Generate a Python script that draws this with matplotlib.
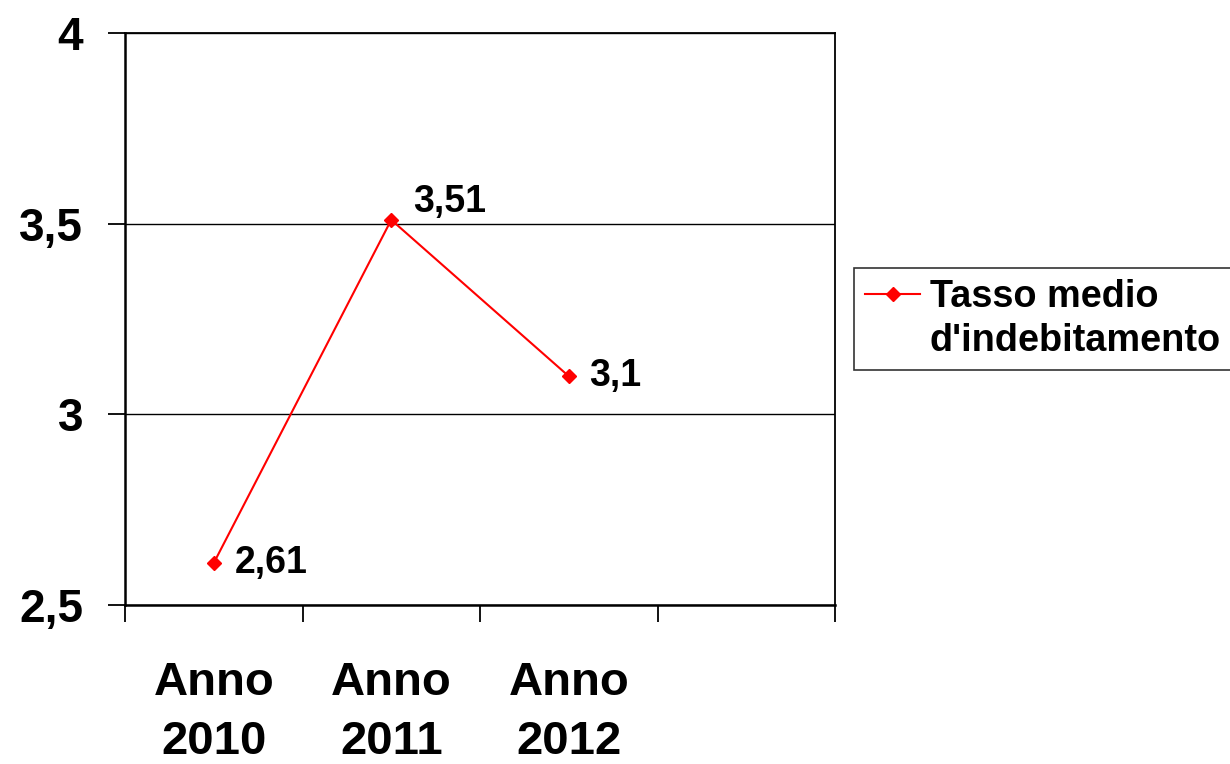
import matplotlib.pyplot as plt
from matplotlib.lines import Line2D

# data
categories = ["Anno\n2010", "Anno\n2011", "Anno\n2012", ""]
values = [2.61, 3.51, 3.1]
value_labels = ["2,61", "3,51", "3,1"]
y_ticks = [2.5, 3, 3.5, 4]
y_tick_labels = ["2,5", "3", "3,5", "4"]
series_name = ["Tasso medio", "d'indebitamento"]

plt.rcParams['font.family'] = ['Liberation Sans', 'DejaVu Sans']
plt.rcParams['font.weight'] = 'bold'

fig = plt.figure(figsize=(12.3, 7.64), dpi=100)
ax = fig.add_axes([125/1230, 159/764, 710/1230, 572/764])

x = [i + 0.5 for i in range(len(values))]
ax.plot(x, values, color='red', lw=1.5, marker='D', markersize=7.5, zorder=3)

# value labels
offsets = [(15, 0), (16, 13), (15, 0)]
for xi, v, lab, off in zip(x, values, value_labels, offsets):
    ax.annotate(lab, (xi, v), xytext=off, textcoords='offset points',
                ha='left', va='center', fontsize=27, fontweight='bold')

ax.set_xlim(0, len(categories))
ax.set_ylim(2.5, 4)

# category boundaries as major ticks, labels on minor ticks
ax.set_xticks(range(len(categories) + 1))
ax.set_xticklabels([])
ax.set_xticks([i + 0.5 for i in range(len(categories))], minor=True)
ax.set_xticklabels(categories, minor=True, fontsize=34, fontweight='bold',
                   linespacing=1.45)
ax.tick_params(axis='x', which='major', direction='out', length=12, width=1.3)
ax.tick_params(axis='x', which='minor', length=0, pad=40)

ax.set_yticks(y_ticks)
ax.set_yticklabels(y_tick_labels, fontsize=33, fontweight='bold')
ax.tick_params(axis='y', direction='out', length=12, width=1.3, pad=18)

ax.grid(axis='y', color='black', lw=1.0)
ax.set_axisbelow(True)
for side in ['left', 'bottom']:
    ax.spines[side].set_linewidth(1.8)
for side in ['top', 'right']:
    ax.spines[side].set_linewidth(1.3)

# legend: marker aligned with first line of the label
h1 = Line2D([], [], color='red', lw=1.5, marker='D', markersize=7.5)
h2 = Line2D([], [], color='none')
leg = fig.legend([h1, h2], series_name, loc='upper left',
                 bbox_to_anchor=(854/1230, 1 - 268/764),
                 prop={'size': 27.3, 'weight': 'bold'},
                 frameon=True, fancybox=False, edgecolor='black',
                 borderpad=0.3, labelspacing=0.2, handlelength=1.45,
                 handletextpad=0.25, borderaxespad=0)
leg.get_frame().set_linewidth(1.2)

fig.savefig('out.png', dpi=100)
